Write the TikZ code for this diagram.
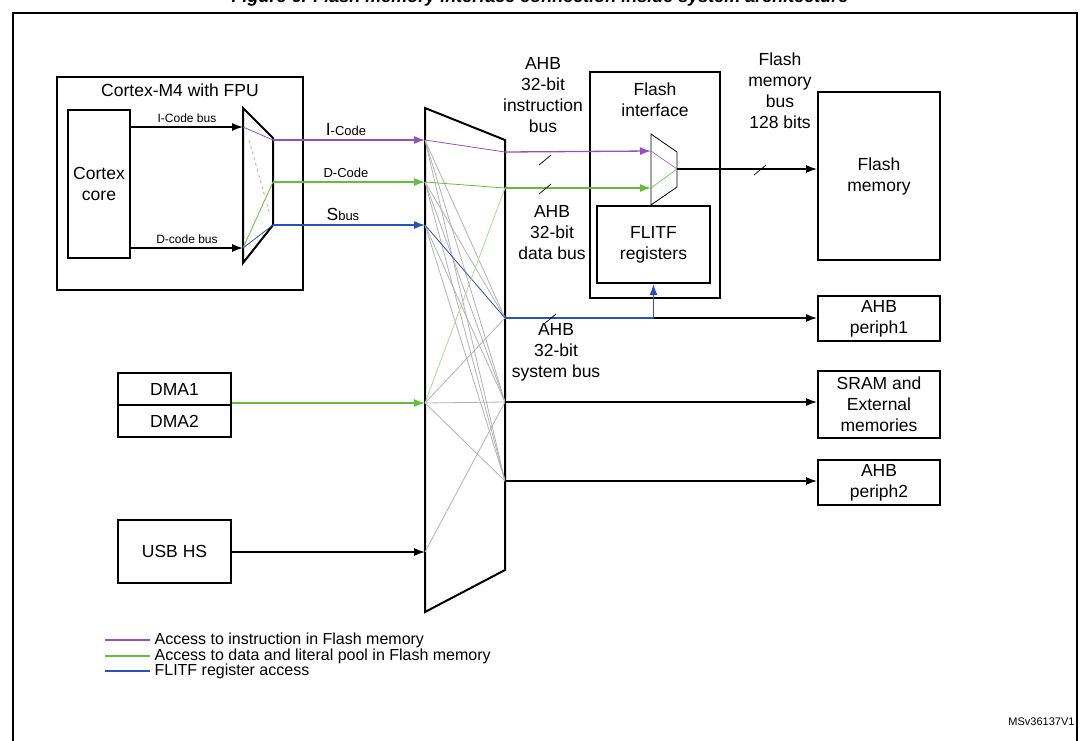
\documentclass[tikz,border=0pt]{standalone}
\usepackage{fontspec}
\setmainfont{Liberation Sans}
\usetikzlibrary{arrows.meta,positioning}
\definecolor{icode}{RGB}{148,80,190}
\definecolor{dcode}{RGB}{100,190,60}
\definecolor{sbus}{RGB}{40,80,190}
\definecolor{ltgreen}{RGB}{170,220,140}
\tikzset{
  box/.style={draw,line width=2pt,inner sep=0pt},
  lbl/.style={align=center,text=black,font=\fontsize{17.5}{21}\selectfont},
  sml/.style={text=black,font=\fontsize{12}{14}\selectfont},
  bus/.style={line width=1.3pt,-{Latex[length=11pt,width=8pt]}},
  xbar/.style={gray!60,line width=0.8pt},
  slash/.style={line width=0.7pt},
}
\begin{document}
\begin{tikzpicture}[x=1pt,y=-1pt]
\useasboundingbox (0,0) rectangle (1080,740);
\draw[line width=1.5pt] (13,13) rectangle (1077,745);
\node[font=\bfseries\itshape\fontsize{18}{20}\selectfont] (title) at (540,-2) {Figure 6. Flash memory interface connection inside system architecture};

% Cortex-M4 block
\node[box,minimum width=246,minimum height=213] (m4) at (180,183.5) {};
\node[lbl,below=4pt of m4.north] (m4t) {Cortex-M4 with FPU};
\node[box,minimum width=62,minimum height=148,lbl] (core) at (99,184) {Cortex\\core};
\draw[line width=2pt] (243,108) -- (273,138) -- (273,225) -- (243,263) -- cycle;
\coordinate (mi) at (243,127);
\coordinate (md) at (243,248);
\coordinate (oi) at (273,140);
\coordinate (od) at (273,182);
\coordinate (os) at (273,225);
\draw[bus] (core.east |- mi) -- node[sml,above] {I-Code bus} (mi);
\draw[bus] (core.east |- md) -- node[sml,above] {D-code bus} (md);
\draw[icode,line width=0.8pt] (mi) -- (oi);
\draw[dcode,line width=0.8pt] (md) -- (od);
\draw[sbus,line width=0.8pt] (md) -- (os);
\draw[gray!60,dashed,line width=0.8pt] (249,140) -- (270,215);

% bus matrix
\draw[line width=2pt] (425,108) -- (505,140) -- (505,570) -- (425,612) -- cycle;
\coordinate (ai) at (425,140);
\coordinate (ad) at (425,182);
\coordinate (as) at (425,225);
\coordinate (adma) at (425,403);
\coordinate (ausb) at (425,552);
\coordinate (bi) at (505,152);
\coordinate (bd) at (505,188);
\coordinate (bs) at (505,318);
\coordinate (bm) at (505,402);
\coordinate (bp) at (505,481);
\draw[bus,icode] (oi) -- node[lbl,above,pos=0.48] {I\fontsize{13}{15}\selectfont-Code} (ai);
\draw[bus,dcode] (od) -- node[above,pos=0.48,text=black,font=\fontsize{13}{15}\selectfont] {D-Code} (ad);
\draw[bus,sbus] (os) -- node[lbl,above,pos=0.46] {S\fontsize{13}{15}\selectfont bus} (as);
\foreach \a/\b in {ai/bm,ai/bp,ad/bm,ad/bp,as/bm,as/bp,adma/bs,adma/bm,adma/bp,ausb/bm,ad/bs,ai/bs}
  \draw[xbar] (\a) -- (\b);
\draw[icode,line width=0.8pt] (ai) -- (bi);
\draw[dcode,line width=0.8pt] (ad) -- (bd);
\draw[sbus,line width=0.8pt] (as) -- (bs);
\draw[ltgreen,line width=0.8pt] (adma) -- (bd);

% masters
\node[box,minimum width=113,minimum height=64] (dma) at (174.5,405) {};
\draw[line width=1.5pt] (dma.west) -- (dma.east);
\node[lbl] (dma1) at (174.5,389) {DMA1};
\node[lbl] (dma2) at (174.5,421) {DMA2};
\node[box,minimum width=113,minimum height=63,lbl] (usb) at (174.5,551.5) {USB HS};
\draw[bus,dcode,line width=1.1pt] (dma.east |- adma) -- (adma);
\draw[bus] (usb.east |- ausb) -- (ausb);

% flash interface
\node[box,minimum width=130,minimum height=226] (fif) at (655,185) {};
\node[lbl,below=8pt of fif.north] (fift) {Flash\\interface};
\node[box,minimum width=113,minimum height=77,lbl] (flitf) at (653.5,244.5) {FLITF\\registers};
\draw[line width=0.8pt] (651,134) -- (677,152) -- (677,187) -- (651,205) -- cycle;
\coordinate (fi) at (651,151);
\coordinate (fd) at (651,188);
\coordinate (fo) at (677,169);
\draw[icode,line width=0.6pt] (fi) -- (fo);
\draw[dcode,line width=0.6pt] (fd) -- (fo);
\draw[bus,icode] (bi) -- (fi);
\draw[bus,dcode] (bd) -- (fd);

% slaves
\node[box,minimum width=122,minimum height=168,lbl] (flash) at (879,176) {Flash\\memory};
\node[box,minimum width=122,minimum height=45,lbl] (p1) at (879,318.5) {AHB\\periph1};
\node[box,minimum width=122,minimum height=67,lbl] (sram) at (879,404.5) {SRAM and\\External\\memories};
\node[box,minimum width=122,minimum height=45,lbl] (p2) at (879,482.5) {AHB\\periph2};
\draw[bus] (fo) -- (flash.west |- fo);
\coordinate (tap) at (flitf.south |- bs);
\draw[sbus,line width=1.3pt] (bs) -- (tap);
\draw[bus,sbus] (tap) -- (flitf.south);
\draw[bus] (tap) -- (p1.west |- bs);
\draw[bus] (bm) -- (sram.west |- bm);
\draw[bus] (bp) -- (p2.west |- bp);

% bus width marks
\foreach \x/\y in {545/160,545/189,550/319,760/170}
  \draw[slash] (\x-6,\y+5) -- (\x+6,\y-5);

% bus labels
\node[lbl] (libus) at (543,95) {AHB\\32-bit\\instruction\\bus};
\node[lbl] (ldbus) at (552,233) {AHB\\32-bit\\data bus};
\node[lbl] (lsbus) at (556,352) {AHB\\32-bit\\system bus};
\node[lbl] (lfbus) at (780,91) {Flash\\memory\\bus\\128 bits};

% legend
\draw[icode,line width=1.2pt] (105,640) -- (150,640) node[black,right,inner sep=4pt,font=\fontsize{16}{18}\selectfont] (leg1) {Access to instruction in Flash memory};
\draw[dcode,line width=1.2pt] (105,656) -- (150,656) node[black,right,inner sep=4pt,font=\fontsize{16}{18}\selectfont] (leg2) {Access to data and literal pool in Flash memory};
\draw[sbus,line width=1.2pt] (105,671) -- (150,671) node[black,right,inner sep=4pt,font=\fontsize{16}{18}\selectfont] (leg3) {FLITF register access};
\node[font=\fontsize{11}{13}\selectfont,anchor=east] (ref) at (1078,722) {MSv36137V1};
\end{tikzpicture}
\end{document}
